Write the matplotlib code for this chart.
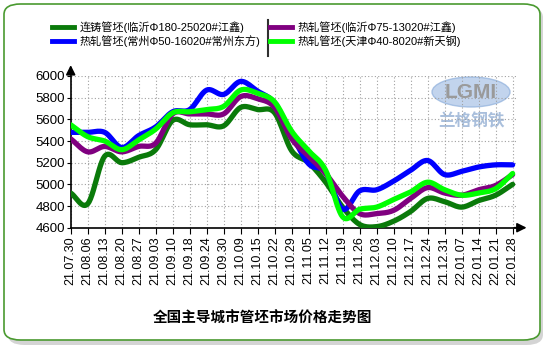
import numpy as np
import matplotlib.pyplot as plt
from matplotlib.patches import FancyBboxPatch, Ellipse
from matplotlib.lines import Line2D

plt.rcParams['font.family'] = ['Liberation Sans', 'Noto Sans CJK SC', 'DejaVu Sans']

dates = ['21.07.30', '21.08.06', '21.08.13', '21.08.20', '21.08.27', '21.09.03', '21.09.10',
         '21.09.18', '21.09.24', '21.09.30', '21.10.09', '21.10.15', '21.10.22', '21.10.29',
         '21.11.05', '21.11.12', '21.11.19', '21.11.26', '21.12.03', '21.12.10', '21.12.17',
         '21.12.24', '21.12.31', '22.01.07', '22.01.14', '22.01.21', '22.01.28']

# 连铸管坯 临沂
lianzhu_linyi = [4920, 4820, 5260, 5200, 5250, 5320, 5590, 5550, 5550, 5540, 5710, 5690, 5660, 5310,
                 5200, 5020, 4790, 4630, 4610, 4660, 4750, 4870, 4840, 4790, 4850, 4900, 5000]
# 热轧管坯 常州
rezha_changzhou = [5480, 5480, 5480, 5340, 5450, 5530, 5670, 5690, 5870, 5830, 5950, 5860, 5750, 5460,
                   5190, 5110, 4770, 4940, 4950, 5030, 5130, 5220, 5090, 5120, 5160, 5180, 5180]
# 热轧管坯 临沂
rezha_linyi = [5420, 5300, 5350, 5300, 5350, 5380, 5650, 5650, 5650, 5650, 5810, 5790, 5710, 5420,
               5260, 5100, 4890, 4730, 4730, 4760, 4870, 4970, 4920, 4900, 4950, 4990, 5090]
# 热轧管坯 天津
rezha_tianjin = [5550, 5440, 5400, 5320, 5410, 5510, 5660, 5670, 5690, 5720, 5870, 5840, 5760, 5490,
                 5310, 5130, 4700, 4770, 4790, 4860, 4930, 5020, 4950, 4900, 4920, 4960, 5100]

labels = ['连铸管坯(临沂Φ180-25020#江鑫)', '热轧管坯(常州Φ50-16020#常州东方)',
          '热轧管坯(临沂Φ75-13020#江鑫)', '热轧管坯(天津Φ40-8020#新天钢)']
colors = ['#0a7a0a', '#0000ff', '#800080', '#00ff00']


def smooth(y, n=12):
    # catmull-rom curve through the points
    y = np.asarray(y, float)
    p = np.concatenate([[2 * y[0] - y[1]], y, [2 * y[-1] - y[-2]]])
    xs, ys = [], []
    t = np.linspace(0, 1, n, endpoint=False)
    for i in range(len(y) - 1):
        p0, p1, p2, p3 = p[i], p[i + 1], p[i + 2], p[i + 3]
        seg = 0.5 * (2 * p1 + (-p0 + p2) * t + (2 * p0 - 5 * p1 + 4 * p2 - p3) * t ** 2
                     + (-p0 + 3 * p1 - 3 * p2 + p3) * t ** 3)
        xs.extend(i + t)
        ys.extend(seg)
    xs.append(len(y) - 1)
    ys.append(y[-1])
    return np.array(xs), np.array(ys)


fig = plt.figure(figsize=(5.5, 3.5), dpi=100)
fig.patch.set_facecolor('white')

# frame with shadow
W, H = 550, 350
shadow = FancyBboxPatch((8 / W, 5 / H), 535 / W, 338 / H, boxstyle='round,pad=0,rounding_size=0.03',
                        transform=fig.transFigure, facecolor='#b8b8b8', edgecolor='none', alpha=0.6,
                        zorder=-3)
frame = FancyBboxPatch((4 / W, 10 / H), 536 / W, 336 / H, boxstyle='round,pad=0,rounding_size=0.03',
                       transform=fig.transFigure, facecolor='white', edgecolor='#4a9a30', linewidth=1.2,
                       zorder=-2)
fig.patches.append(shadow)
fig.patches.append(frame)

# watermark
fig.patches.append(Ellipse((471 / W, (H - 92) / H), 78 / W, 30 / H, transform=fig.transFigure,
                           facecolor='#a9c3e6', edgecolor='#8fb0dc', alpha=0.7, zorder=-1))
fig.text(471 / W, (H - 92) / H, 'LGMI', ha='center', va='center', fontsize=15, color='#9a9a9a',
         fontweight='bold', zorder=-1)
fig.text(471 / W, (H - 121) / H, '兰格钢铁', ha='center', va='center', fontsize=12, color='#a9bfdc',
         family=['Noto Sans CJK SC'], fontweight='bold', zorder=-1)

ax = fig.add_axes([70.7 / W, (H - 227.7) / H, (516 - 70.7) / W, (227.7 - 76) / H])
ax.set_facecolor('none')

series = [lianzhu_linyi, rezha_changzhou, rezha_linyi, rezha_tianjin]
zorders = [3, 4, 5, 6]
handles = []
for s, c, lab, z in zip(series, colors, labels, zorders):
    xs, ys = smooth(s)
    ax.plot(xs, ys, color=c, lw=3.8, solid_capstyle='round', zorder=z)
    handles.append(Line2D([], [], color=c, lw=3.5, label=lab))

ax.set_xlim(0, 26.2)
ax.set_ylim(4600, 6000)
ax.set_yticks(np.arange(4600, 6001, 200))
ax.set_xticks(range(len(dates)))
ax.set_xticklabels(dates, rotation=90, fontsize=9)
ax.tick_params(axis='y', labelsize=9.5, length=3, pad=1)
ax.tick_params(axis='x', length=4, pad=2)
ax.grid(True, color='#a0a0a0', linestyle=(0, (1, 2)), linewidth=0.8)
ax.set_axisbelow(True)
for sp in ['top', 'right']:
    ax.spines[sp].set_visible(False)
ax.spines['left'].set_linewidth(1.2)
ax.spines['bottom'].set_linewidth(1.2)

# arrows on the axes
ax.annotate('', xy=(1.03, 0), xytext=(0.99, 0), xycoords='axes fraction',
            arrowprops=dict(arrowstyle='-|>', color='black', lw=1.2, mutation_scale=14), annotation_clip=False)
ax.annotate('', xy=(0, 1.09), xytext=(0, 0.99), xycoords='axes fraction',
            arrowprops=dict(arrowstyle='-|>', color='black', lw=1.2, mutation_scale=14), annotation_clip=False)

leg_kw = dict(loc='upper left', frameon=False, fontsize=8.0, handlelength=2.0, handletextpad=0.5,
              labelspacing=0.2, borderpad=0, borderaxespad=0)
leg1 = fig.legend(handles=handles[:2], bbox_to_anchor=(52 / W, (H - 21) / H), **leg_kw)
leg2 = fig.legend(handles=handles[2:], bbox_to_anchor=(270 / W, (H - 21) / H), **leg_kw)
fig.add_artist(Line2D([268 / W, 268 / W], [(H - 20) / H, (H - 56) / H], transform=fig.transFigure,
                      color='#303030', lw=1.5))

fig.text(262 / W, (H - 318) / H, '全国主导城市管坯市场价格走势图', ha='center', va='center',
         fontsize=10.5, fontweight='bold', family=['Noto Sans CJK SC'])

fig.savefig('out.png', dpi=100)
